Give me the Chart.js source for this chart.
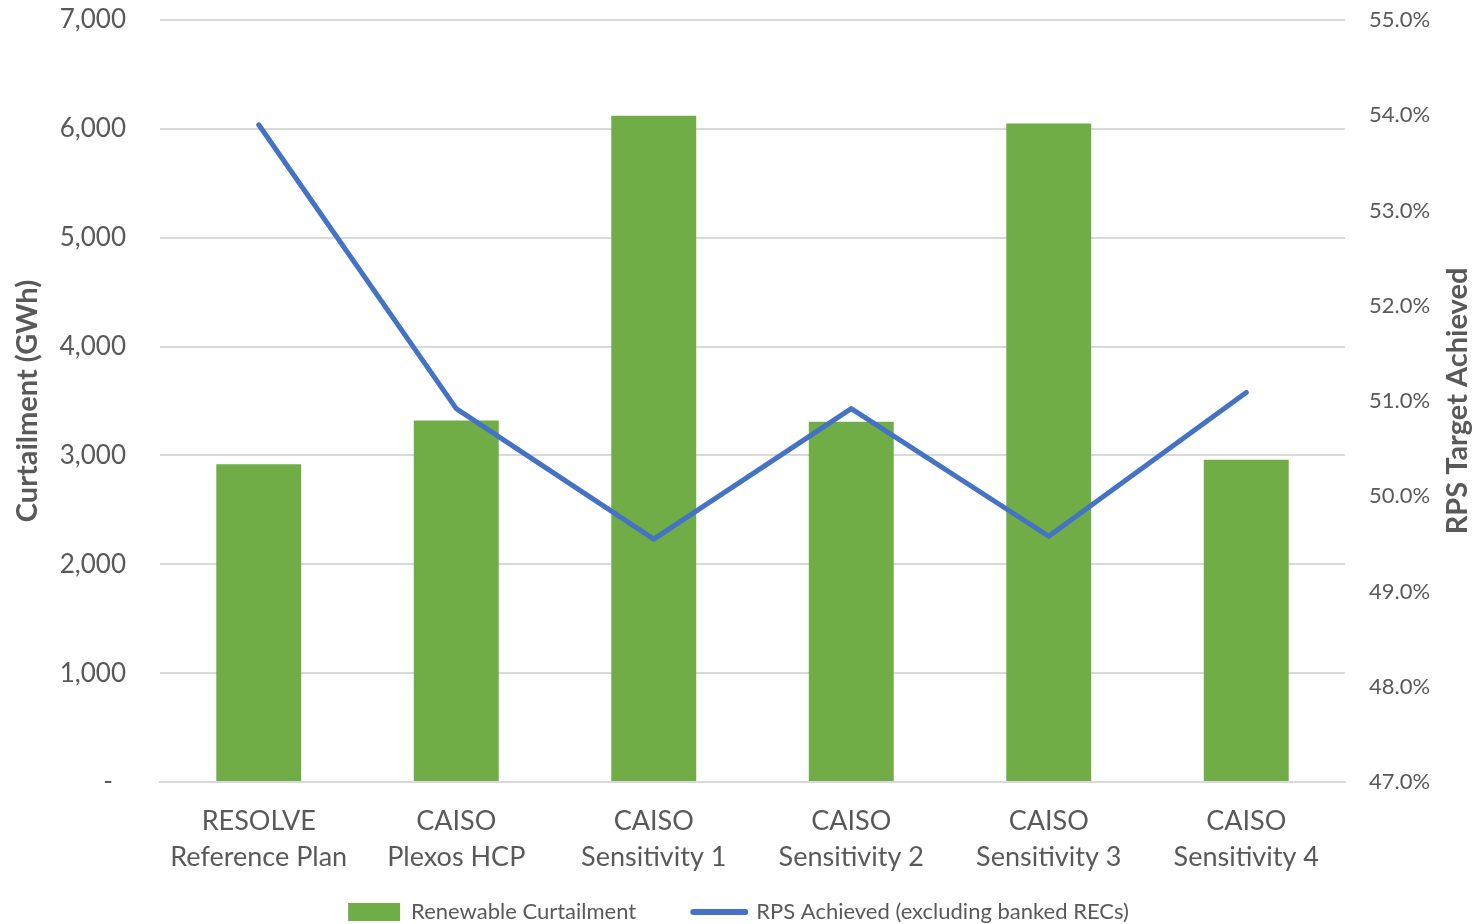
<!DOCTYPE html>
<html>
<head>
<meta charset="utf-8">
<script src="https://cdn.jsdelivr.net/npm/chart.js@4.4.0/dist/chart.umd.min.js"></script>
<style>
  html, body { margin: 0; padding: 0; background: #fff; }
  #wrap { width: 1477px; height: 924px; }
</style>
</head>
<body>
<div id="wrap"><canvas id="chart" width="1477" height="924"></canvas></div>
<script>
// data
const categories = [
  ['RESOLVE', 'Reference Plan'],
  ['CAISO', 'Plexos HCP'],
  ['CAISO', 'Sensitivity 1'],
  ['CAISO', 'Sensitivity 2'],
  ['CAISO', 'Sensitivity 3'],
  ['CAISO', 'Sensitivity 4']
];
const curtailment = [2920, 3320, 6120, 3310, 6050, 2960];   // GWh
const rpsAchieved = [53.9, 50.92, 49.55, 50.92, 49.58, 51.09]; // %

const leftTicks = [0, 1000, 2000, 3000, 4000, 5000, 6000, 7000];
const rightTicks = [47, 48, 49, 50, 51, 52, 53, 54, 55];

const green = '#70AD47';
const blue = '#4472C4';
const textGrey = '#595959';
const font = 'Lato, "Open Sans", sans-serif';

Chart.defaults.font.family = font;
Chart.defaults.color = textGrey;

// right axis title reads bottom-to-top like the left one
const rightTitle = {
  id: 'rightTitle',
  afterDraw(chart) {
    const { ctx, chartArea } = chart;
    ctx.save();
    ctx.translate(1458, (chartArea.top + chartArea.bottom) / 2);
    ctx.rotate(-Math.PI / 2);
    ctx.font = 'bold 29px ' + font;
    ctx.fillStyle = textGrey;
    ctx.textAlign = 'center';
    ctx.textBaseline = 'middle';
    ctx.fillText('RPS Target Achieved', 0, 0);
    ctx.restore();
  }
};

// keep the plot top where the reference has it (tick padding would push it down)
const trimPad = axis => { axis.paddingTop = 20; axis.paddingBottom = 0; };

new Chart(document.getElementById('chart'), {
  type: 'bar',
  plugins: [rightTitle],
  data: {
    labels: categories,
    datasets: [{
      type: 'line',
      label: 'RPS Achieved (excluding banked RECs)',
      data: rpsAchieved,
      yAxisID: 'y2',
      borderColor: blue,
      backgroundColor: blue,
      borderWidth: 5,
      borderCapStyle: 'round',
      borderJoinStyle: 'round',
      pointRadius: 0,
      tension: 0,
      order: 0
    }, {
      label: 'Renewable Curtailment',
      data: curtailment,
      yAxisID: 'y',
      backgroundColor: green,
      borderWidth: 0,
      barPercentage: 0.43,
      categoryPercentage: 1,
      order: 1
    }]
  },
  options: {
    responsive: false,
    animation: false,
    layout: { padding: { left: 0, right: 0, top: 0, bottom: -9 } },
    plugins: {
      tooltip: { enabled: false },
      legend: {
        position: 'bottom',
        reverse: true,
        labels: {
          font: { size: 22 },
          color: textGrey,
          usePointStyle: true,
          pointStyleWidth: 52,
          boxHeight: 18,
          padding: 2,
          generateLabels: chart => {
            const items = Chart.defaults.plugins.legend.labels.generateLabels(chart);
            return items.map(it => {
              if (it.datasetIndex === 0) {
                it.pointStyle = 'line';
                it.lineWidth = 6;
                it.lineCap = 'round';
              } else {
                it.pointStyle = 'rect';
                it.lineWidth = 0;
                it.text += '\u2003\u2003\u2002\u2002'; // gap before the next item
              }
              return it;
            });
          }
        }
      }
    },
    scales: {
      x: {
        grid: { display: false, drawTicks: false },
        border: { display: true, color: '#d9d9d9', width: 2 },
        ticks: { font: { size: 27, lineHeight: 1.33 }, color: textGrey, padding: 21, maxRotation: 0 },
        afterFit: axis => { axis.height = 117; }
      },
      y: {
        position: 'left',
        min: 0,
        max: 7000,
        afterBuildTicks: axis => { axis.ticks = leftTicks.map(v => ({ value: v })); },
        afterFit: axis => { axis.width = 160; trimPad(axis); },
        grid: { color: '#d9d9d9', lineWidth: 2, drawTicks: false },
        border: { display: false },
        ticks: {
          font: { size: 26 },
          color: textGrey,
          padding: 34,
          callback: v => v === 0 ? '-\u2002' : v.toLocaleString('en-US')
        },
        title: {
          display: true,
          text: 'Curtailment (GWh)',
          font: { size: 29, weight: 'bold' },
          color: textGrey,
          padding: { top: 10, bottom: 0 }
        }
      },
      y2: {
        position: 'right',
        min: 47,
        max: 55,
        afterBuildTicks: axis => { axis.ticks = rightTicks.map(v => ({ value: v })); },
        afterFit: axis => { axis.width = 132; trimPad(axis); },
        grid: { display: false, drawTicks: false },
        border: { display: false },
        ticks: {
          font: { size: 22 },
          color: textGrey,
          padding: 24,
          callback: v => v.toFixed(1) + '%'
        }
      }
    }
  }
});
</script>
</body>
</html>
